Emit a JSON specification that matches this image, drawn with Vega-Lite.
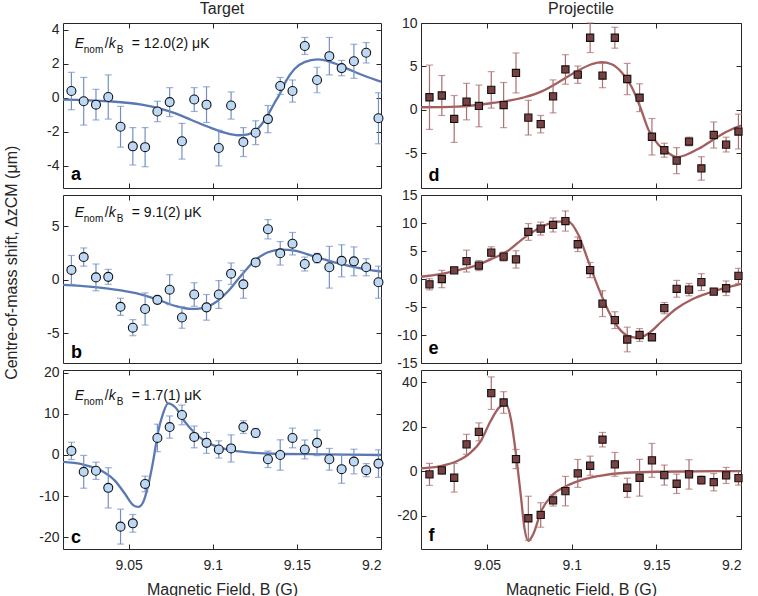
{
  "$schema": "https://vega.github.io/schema/vega-lite/v6.json",
  "padding": {"left": 4, "top": 0, "right": 5, "bottom": 0},
  "background": "white",
  "config": {
    "font": "Liberation Sans",
    "view": {"stroke": "#262626", "strokeWidth": 1},
    "axis": {"domain": false, "grid": false, "tickSize": -5, "tickColor": "#262626", "tickWidth": 1,
             "labelFontSize": 14, "labelColor": "#262626", "labelFont": "Liberation Sans", "labelPadding": 9,
             "titleFont": "Liberation Sans", "titleFontSize": 16, "titleFontWeight": "normal", "titleColor": "#262626"},
    "title": {"fontSize": 16, "fontWeight": "normal", "font": "Liberation Sans", "color": "#262626", "offset": 6},
    "text": {"font": "Liberation Sans", "color": "#111111"}
  },
  "datasets": {
    "pts": [
      {"p":"a","x":9.016,"y":0.4,"e":1.1},{"p":"a","x":9.0233,"y":-0.2,"e":1.4},{"p":"a","x":9.0306,"y":-0.4,"e":0.9},{"p":"a","x":9.0379,"y":0.05,"e":1.3},{"p":"a","x":9.0452,"y":-1.7,"e":1.2},{"p":"a","x":9.0525,"y":-2.85,"e":1.1},{"p":"a","x":9.0598,"y":-2.9,"e":1.15},{"p":"a","x":9.0671,"y":-0.8,"e":0.6},{"p":"a","x":9.0744,"y":-0.25,"e":0.85},{"p":"a","x":9.0817,"y":-2.55,"e":1.05},{"p":"a","x":9.089,"y":-0.1,"e":0.7},{"p":"a","x":9.0963,"y":-0.4,"e":1.05},{"p":"a","x":9.1036,"y":-2.95,"e":1.05},{"p":"a","x":9.1109,"y":-0.45,"e":0.8},{"p":"a","x":9.1182,"y":-2.6,"e":0.85},{"p":"a","x":9.1255,"y":-2.05,"e":0.7},{"p":"a","x":9.1328,"y":-1.25,"e":0.8},{"p":"a","x":9.1401,"y":0.7,"e":0.5},{"p":"a","x":9.1474,"y":0.4,"e":0.65},{"p":"a","x":9.1547,"y":3.05,"e":0.5},{"p":"a","x":9.162,"y":1.05,"e":0.75},{"p":"a","x":9.1693,"y":2.45,"e":1.1},{"p":"a","x":9.1766,"y":1.75,"e":0.45},{"p":"a","x":9.1839,"y":2.15,"e":1.0},{"p":"a","x":9.1912,"y":2.65,"e":0.6},{"p":"a","x":9.1985,"y":-1.2,"e":1.5},
      {"p":"b","x":9.016,"y":0.9,"e":1.35},{"p":"b","x":9.0233,"y":2.1,"e":0.85},{"p":"b","x":9.0306,"y":0.2,"e":1.25},{"p":"b","x":9.0379,"y":0.25,"e":0.7},{"p":"b","x":9.0452,"y":-2.55,"e":0.8},{"p":"b","x":9.0525,"y":-4.5,"e":0.75},{"p":"b","x":9.0598,"y":-2.75,"e":1.5},{"p":"b","x":9.0671,"y":-1.9,"e":0.35},{"p":"b","x":9.0744,"y":-0.95,"e":1.4},{"p":"b","x":9.0817,"y":-3.55,"e":1.0},{"p":"b","x":9.089,"y":-1.4,"e":1.1},{"p":"b","x":9.0963,"y":-2.6,"e":1.2},{"p":"b","x":9.1036,"y":-1.4,"e":1.3},{"p":"b","x":9.1109,"y":0.55,"e":1.0},{"p":"b","x":9.1182,"y":-0.45,"e":1.3},{"p":"b","x":9.1255,"y":1.6,"e":0.3},{"p":"b","x":9.1328,"y":4.7,"e":0.9},{"p":"b","x":9.1401,"y":2.45,"e":1.1},{"p":"b","x":9.1474,"y":3.35,"e":1.05},{"p":"b","x":9.1547,"y":1.45,"e":0.65},{"p":"b","x":9.162,"y":2.0,"e":0.45},{"p":"b","x":9.1693,"y":1.15,"e":1.95},{"p":"b","x":9.1766,"y":1.75,"e":1.5},{"p":"b","x":9.1839,"y":1.7,"e":1.35},{"p":"b","x":9.1912,"y":1.15,"e":0.8},{"p":"b","x":9.1985,"y":-0.25,"e":1.5},
      {"p":"c","x":9.016,"y":1.0,"e":2.1},{"p":"c","x":9.0233,"y":-4.1,"e":4.0},{"p":"c","x":9.0306,"y":-3.85,"e":2.1},{"p":"c","x":9.0379,"y":-8.0,"e":4.9},{"p":"c","x":9.0452,"y":-17.45,"e":4.25},{"p":"c","x":9.0525,"y":-16.65,"e":2.15},{"p":"c","x":9.0598,"y":-7.05,"e":1.9},{"p":"c","x":9.0671,"y":4.15,"e":3.35},{"p":"c","x":9.0744,"y":6.8,"e":2.7},{"p":"c","x":9.0817,"y":9.75,"e":2.4},{"p":"c","x":9.089,"y":4.4,"e":2.65},{"p":"c","x":9.0963,"y":2.95,"e":2.55},{"p":"c","x":9.1036,"y":1.35,"e":2.1},{"p":"c","x":9.1109,"y":1.6,"e":3.3},{"p":"c","x":9.1182,"y":6.8,"e":1.55},{"p":"c","x":9.1255,"y":5.35,"e":1.1},{"p":"c","x":9.1328,"y":-1.05,"e":2.0},{"p":"c","x":9.1401,"y":0.0,"e":3.7},{"p":"c","x":9.1474,"y":4.15,"e":2.4},{"p":"c","x":9.1547,"y":1.35,"e":2.3},{"p":"c","x":9.162,"y":2.95,"e":3.1},{"p":"c","x":9.1693,"y":-1.05,"e":2.65},{"p":"c","x":9.1766,"y":-3.45,"e":3.45},{"p":"c","x":9.1839,"y":-1.6,"e":3.0},{"p":"c","x":9.1912,"y":-3.7,"e":1.6},{"p":"c","x":9.1985,"y":-2.1,"e":3.35},
      {"p":"d","x":9.016,"y":1.45,"e":3.7},{"p":"d","x":9.0233,"y":1.65,"e":2.3},{"p":"d","x":9.0306,"y":-1.05,"e":2.7},{"p":"d","x":9.0379,"y":0.95,"e":2.1},{"p":"d","x":9.0452,"y":0.45,"e":2.4},{"p":"d","x":9.0525,"y":2.3,"e":2.1},{"p":"d","x":9.0598,"y":0.55,"e":2.6},{"p":"d","x":9.0671,"y":4.25,"e":2.3},{"p":"d","x":9.0744,"y":-0.9,"e":2.0},{"p":"d","x":9.0817,"y":-1.65,"e":1.0},{"p":"d","x":9.089,"y":1.55,"e":1.9},{"p":"d","x":9.0963,"y":4.65,"e":1.7},{"p":"d","x":9.1036,"y":4.05,"e":1.0},{"p":"d","x":9.1109,"y":8.3,"e":1.7},{"p":"d","x":9.1182,"y":3.95,"e":1.4},{"p":"d","x":9.1255,"y":8.3,"e":1.2},{"p":"d","x":9.1328,"y":3.55,"e":1.8},{"p":"d","x":9.1401,"y":1.4,"e":1.6},{"p":"d","x":9.1474,"y":-3.1,"e":2.1},{"p":"d","x":9.1547,"y":-4.65,"e":0.8},{"p":"d","x":9.162,"y":-5.85,"e":1.5},{"p":"d","x":9.1693,"y":-3.65,"e":0.5},{"p":"d","x":9.1766,"y":-6.75,"e":1.35},{"p":"d","x":9.1839,"y":-2.9,"e":1.5},{"p":"d","x":9.1912,"y":-4.0,"e":0.85},{"p":"d","x":9.1985,"y":-2.5,"e":2.0},
      {"p":"e","x":9.016,"y":-0.95,"e":1.0},{"p":"e","x":9.0233,"y":0.0,"e":1.55},{"p":"e","x":9.0306,"y":1.55,"e":0.3},{"p":"e","x":9.0379,"y":3.2,"e":1.95},{"p":"e","x":9.0452,"y":2.4,"e":0.9},{"p":"e","x":9.0525,"y":4.7,"e":1.05},{"p":"e","x":9.0598,"y":4.0,"e":0.8},{"p":"e","x":9.0671,"y":3.5,"e":1.55},{"p":"e","x":9.0744,"y":8.4,"e":1.5},{"p":"e","x":9.0817,"y":9.0,"e":1.15},{"p":"e","x":9.089,"y":9.65,"e":1.25},{"p":"e","x":9.0963,"y":10.35,"e":1.8},{"p":"e","x":9.1036,"y":6.2,"e":1.3},{"p":"e","x":9.1109,"y":1.6,"e":1.35},{"p":"e","x":9.1182,"y":-4.4,"e":2.3},{"p":"e","x":9.1255,"y":-7.35,"e":1.5},{"p":"e","x":9.1328,"y":-10.8,"e":2.2},{"p":"e","x":9.1401,"y":-10.0,"e":1.15},{"p":"e","x":9.1474,"y":-10.4,"e":0.3},{"p":"e","x":9.1547,"y":-5.2,"e":1.0},{"p":"e","x":9.162,"y":-1.75,"e":1.5},{"p":"e","x":9.1693,"y":-1.9,"e":1.1},{"p":"e","x":9.1766,"y":-0.55,"e":1.5},{"p":"e","x":9.1839,"y":-2.25,"e":0.3},{"p":"e","x":9.1912,"y":-1.65,"e":1.3},{"p":"e","x":9.1985,"y":0.55,"e":1.35},
      {"p":"f","x":9.016,"y":-1.5,"e":4.95},{"p":"f","x":9.0233,"y":0.3,"e":1.7},{"p":"f","x":9.0306,"y":-3.0,"e":6.45},{"p":"f","x":9.0379,"y":12.0,"e":4.5},{"p":"f","x":9.0452,"y":17.6,"e":4.05},{"p":"f","x":9.0525,"y":35.0,"e":7.3},{"p":"f","x":9.0598,"y":30.8,"e":4.85},{"p":"f","x":9.0671,"y":5.4,"e":4.3},{"p":"f","x":9.0744,"y":-21.2,"e":9.9},{"p":"f","x":9.0817,"y":-19.7,"e":5.5},{"p":"f","x":9.089,"y":-13.2,"e":2.5},{"p":"f","x":9.0963,"y":-9.0,"e":6.6},{"p":"f","x":9.1036,"y":-1.05,"e":6.25},{"p":"f","x":9.1109,"y":2.4,"e":4.3},{"p":"f","x":9.1182,"y":14.1,"e":3.25},{"p":"f","x":9.1255,"y":3.0,"e":5.35},{"p":"f","x":9.1328,"y":-7.5,"e":4.3},{"p":"f","x":9.1401,"y":-3.0,"e":8.25},{"p":"f","x":9.1474,"y":4.8,"e":7.6},{"p":"f","x":9.1547,"y":-1.8,"e":4.5},{"p":"f","x":9.162,"y":-5.7,"e":4.35},{"p":"f","x":9.1693,"y":-1.5,"e":6.6},{"p":"f","x":9.1766,"y":-4.05,"e":1.9},{"p":"f","x":9.1839,"y":-5.0,"e":3.9},{"p":"f","x":9.1912,"y":-1.95,"e":3.6},{"p":"f","x":9.1985,"y":-3.15,"e":3.15}
    ],
    "fit": [
      {"p":"a","x":9.011,"y":-0.1},{"p":"a","x":9.0379,"y":-0.2},{"p":"a","x":9.0577,"y":-0.4},{"p":"a","x":9.0676,"y":-0.6},{"p":"a","x":9.0774,"y":-0.9},{"p":"a","x":9.0873,"y":-1.3},{"p":"a","x":9.0972,"y":-1.7},{"p":"a","x":9.1071,"y":-2.05},{"p":"a","x":9.115,"y":-2.2},{"p":"a","x":9.1209,"y":-2.15},{"p":"a","x":9.1269,"y":-1.8},{"p":"a","x":9.1328,"y":-1.0},{"p":"a","x":9.1367,"y":-0.3},{"p":"a","x":9.1397,"y":0.2},{"p":"a","x":9.1436,"y":1.0},{"p":"a","x":9.1486,"y":1.7},{"p":"a","x":9.1545,"y":2.1},{"p":"a","x":9.1624,"y":2.26},{"p":"a","x":9.1703,"y":2.1},{"p":"a","x":9.1802,"y":1.7},{"p":"a","x":9.1901,"y":1.3},{"p":"a","x":9.2,"y":0.95},
      {"p":"b","x":9.011,"y":-0.5},{"p":"b","x":9.0379,"y":-0.85},{"p":"b","x":9.0577,"y":-1.4},{"p":"b","x":9.0676,"y":-1.9},{"p":"b","x":9.0774,"y":-2.45},{"p":"b","x":9.0873,"y":-2.75},{"p":"b","x":9.0932,"y":-2.7},{"p":"b","x":9.1011,"y":-2.2},{"p":"b","x":9.1091,"y":-1.1},{"p":"b","x":9.117,"y":0.4},{"p":"b","x":9.1248,"y":1.75},{"p":"b","x":9.1328,"y":2.55},{"p":"b","x":9.1407,"y":2.8},{"p":"b","x":9.1486,"y":2.7},{"p":"b","x":9.1604,"y":2.15},{"p":"b","x":9.1723,"y":1.6},{"p":"b","x":9.1862,"y":1.1},{"p":"b","x":9.2,"y":0.75},
      {"p":"c","x":9.011,"y":-1.7},{"p":"c","x":9.0221,"y":-2.25},{"p":"c","x":9.0339,"y":-3.85},{"p":"c","x":9.0418,"y":-6.25},{"p":"c","x":9.0478,"y":-9.45},{"p":"c","x":9.0527,"y":-12.2},{"p":"c","x":9.0557,"y":-12.65},{"p":"c","x":9.0587,"y":-11.45},{"p":"c","x":9.0616,"y":-7.45},{"p":"c","x":9.0646,"y":-1.45},{"p":"c","x":9.0676,"y":5.75},{"p":"c","x":9.0705,"y":10.15},{"p":"c","x":9.0735,"y":12.55},{"p":"c","x":9.0774,"y":11.75},{"p":"c","x":9.0833,"y":8.15},{"p":"c","x":9.0893,"y":5.35},{"p":"c","x":9.0972,"y":2.95},{"p":"c","x":9.1071,"y":1.5},{"p":"c","x":9.117,"y":0.8},{"p":"c","x":9.1367,"y":0.3},{"p":"c","x":9.1664,"y":0.15},{"p":"c","x":9.2,"y":0.0},
      {"p":"d","x":9.011,"y":0.3},{"p":"d","x":9.0324,"y":0.38},{"p":"d","x":9.0522,"y":0.76},{"p":"d","x":9.0721,"y":1.45},{"p":"d","x":9.082,"y":2.1},{"p":"d","x":9.0919,"y":3.15},{"p":"d","x":9.1018,"y":4.3},{"p":"d","x":9.1117,"y":5.25},{"p":"d","x":9.1177,"y":5.5},{"p":"d","x":9.1236,"y":5.25},{"p":"d","x":9.1296,"y":4.3},{"p":"d","x":9.1355,"y":2.6},{"p":"d","x":9.1405,"y":0.3},{"p":"d","x":9.1455,"y":-2.35},{"p":"d","x":9.1514,"y":-4.05},{"p":"d","x":9.1574,"y":-5.0},{"p":"d","x":9.1623,"y":-5.45},{"p":"d","x":9.1673,"y":-5.2},{"p":"d","x":9.1752,"y":-4.45},{"p":"d","x":9.1831,"y":-3.5},{"p":"d","x":9.1911,"y":-2.55},{"p":"d","x":9.2,"y":-1.8},
      {"p":"e","x":9.011,"y":0.4},{"p":"e","x":9.0225,"y":0.85},{"p":"e","x":9.0324,"y":1.55},{"p":"e","x":9.0423,"y":2.3},{"p":"e","x":9.0522,"y":3.5},{"p":"e","x":9.0622,"y":5.0},{"p":"e","x":9.0721,"y":7.4},{"p":"e","x":9.082,"y":9.3},{"p":"e","x":9.0919,"y":10.25},{"p":"e","x":9.0979,"y":10.25},{"p":"e","x":9.1038,"y":8.0},{"p":"e","x":9.1098,"y":3.2},{"p":"e","x":9.1157,"y":-1.55},{"p":"e","x":9.1217,"y":-5.7},{"p":"e","x":9.1276,"y":-8.7},{"p":"e","x":9.1336,"y":-10.2},{"p":"e","x":9.1395,"y":-10.5},{"p":"e","x":9.1455,"y":-9.7},{"p":"e","x":9.1534,"y":-7.5},{"p":"e","x":9.1613,"y":-5.4},{"p":"e","x":9.1712,"y":-3.6},{"p":"e","x":9.1812,"y":-2.45},{"p":"e","x":9.1911,"y":-1.55},{"p":"e","x":9.2,"y":-0.85},
      {"p":"f","x":9.011,"y":1.2},{"p":"f","x":9.0225,"y":2.25},{"p":"f","x":9.0324,"y":4.5},{"p":"f","x":9.0403,"y":8.3},{"p":"f","x":9.0463,"y":13.5},{"p":"f","x":9.0522,"y":22.6},{"p":"f","x":9.0572,"y":28.6},{"p":"f","x":9.0612,"y":30.1},{"p":"f","x":9.0641,"y":23.3},{"p":"f","x":9.0671,"y":7.5},{"p":"f","x":9.0701,"y":-12.0},{"p":"f","x":9.0721,"y":-25.6},{"p":"f","x":9.0744,"y":-31.3},{"p":"f","x":9.0771,"y":-28.6},{"p":"f","x":9.082,"y":-18.0},{"p":"f","x":9.0879,"y":-11.3},{"p":"f","x":9.0959,"y":-7.1},{"p":"f","x":9.1038,"y":-4.5},{"p":"f","x":9.1157,"y":-2.25},{"p":"f","x":9.1316,"y":-0.75},{"p":"f","x":9.1514,"y":-0.3},{"p":"f","x":9.2,"y":0.0}
    ],
    "ann": [
      {"p":"a","x":9.018,"y":2.93,"v":"= 12.0(2) μK"},
      {"p":"b","x":9.018,"y":5.8,"v":"= 9.1(2) μK"},
      {"p":"c","x":9.018,"y":13.3,"v":"= 1.7(1) μK"}
    ],
    "lab": [
      {"p":"a","x":9.0158,"y":-4.84,"t":"a"},
      {"p":"b","x":9.0158,"y":-7.34,"t":"b"},
      {"p":"c","x":9.0158,"y":-21.4,"t":"c"},
      {"p":"d","x":9.0155,"y":-8.15,"t":"d"},
      {"p":"e","x":9.0155,"y":-13.4,"t":"e"},
      {"p":"f","x":9.0155,"y":-31.6,"t":"f"}
    ]
  },
  "spacing": 10,
  "hconcat": [
    {
      "title": {"text": "Centre-of-mass shift, ΔzCM (μm)", "orient": "left", "fontSize": 16, "offset": 18, "anchor": "middle", "dx": 36},
      "bounds": "flush",
      "spacing": 7,
      "vconcat": [
        {
          "width": 318, "height": 165,
          "title": {"text": "Target", "frame": "group"},
          "layer": [
            {"data": {"name": "fit"}, "transform": [{"filter": "datum.p==='a'"}],
             "mark": {"type": "line", "color": "#5A79B3", "strokeWidth": 2.3, "interpolate": "monotone", "clip": true},
             "encoding": {
               "x": {"field": "x", "type": "quantitative", "scale": {"domain": [9.011, 9.2], "nice": false, "zero": false}, "axis": {"orient": "top", "values": [9.05, 9.1, 9.15], "labels": false, "title": null}},
               "y": {"field": "y", "type": "quantitative", "scale": {"domain": [-5.3, 4.4], "nice": false, "zero": false}, "axis": {"orient": "right", "values": [-4, -2, 0, 2, 4], "labels": false, "title": null}}}},
            {"data": {"name": "pts"}, "transform": [{"filter": "datum.p==='a'"}],
             "mark": {"type": "errorbar", "color": "#7390C6", "thickness": 1.2, "ticks": {"size": 7, "thickness": 1.2}},
             "encoding": {
               "x": {"field": "x", "type": "quantitative", "axis": null},
               "y": {"field": "y", "type": "quantitative", "axis": null},
               "yError": {"field": "e"}}},
            {"data": {"name": "pts"}, "transform": [{"filter": "datum.p==='a'"}],
             "mark": {"type": "point", "shape": "circle", "filled": true, "fill": "#BCD8F5", "stroke": "#111111", "strokeWidth": 1.1, "size": 80, "opacity": 1},
             "encoding": {
               "x": {"field": "x", "type": "quantitative", "scale": {"domain": [9.011, 9.2], "nice": false, "zero": false}, "axis": {"orient": "bottom", "values": [9.05, 9.1, 9.15], "labels": false, "title": null}},
               "y": {"field": "y", "type": "quantitative", "scale": {"domain": [-5.3, 4.4], "nice": false, "zero": false}, "axis": {"orient": "left", "values": [-4, -2, 0, 2, 4], "title": null, "labelExpr": "'' + datum.value"}}}},
            {"data": {"name": "ann"}, "transform": [{"filter": "datum.p==='a'"}],
             "encoding": {"x": {"field": "x", "type": "quantitative", "axis": null}, "y": {"field": "y", "type": "quantitative", "axis": null}},
             "layer": [
               {"mark": {"type": "text", "text": "E", "fontStyle": "italic", "fontSize": 14, "align": "left", "baseline": "alphabetic"}},
               {"mark": {"type": "text", "text": "nom", "fontSize": 10, "align": "left", "baseline": "alphabetic", "dx": 9, "dy": 5}},
               {"mark": {"type": "text", "text": "/", "fontSize": 14, "align": "left", "baseline": "alphabetic", "dx": 30}},
               {"mark": {"type": "text", "text": "k", "fontStyle": "italic", "fontSize": 14, "align": "left", "baseline": "alphabetic", "dx": 34}},
               {"mark": {"type": "text", "text": "B", "fontSize": 10, "align": "left", "baseline": "alphabetic", "dx": 42, "dy": 5}},
               {"mark": {"type": "text", "fontSize": 14, "align": "left", "baseline": "alphabetic", "dx": 57}, "encoding": {"text": {"field": "v"}}}
             ]},
            {"data": {"name": "lab"}, "transform": [{"filter": "datum.p==='a'"}],
             "mark": {"type": "text", "fontWeight": "bold", "fontSize": 18, "align": "left", "baseline": "alphabetic", "color": "#000000"},
             "encoding": {"x": {"field": "x", "type": "quantitative", "axis": null}, "y": {"field": "y", "type": "quantitative", "axis": null}, "text": {"field": "t"}}}
          ],
          "resolve": {"axis": {"x": "independent", "y": "independent"}}
        },
        {
          "width": 318, "height": 168,
          "layer": [
            {"data": {"name": "fit"}, "transform": [{"filter": "datum.p==='b'"}],
             "mark": {"type": "line", "color": "#5A79B3", "strokeWidth": 2.3, "interpolate": "monotone", "clip": true},
             "encoding": {
               "x": {"field": "x", "type": "quantitative", "scale": {"domain": [9.011, 9.2], "nice": false, "zero": false}, "axis": {"orient": "top", "values": [9.05, 9.1, 9.15], "labels": false, "title": null}},
               "y": {"field": "y", "type": "quantitative", "scale": {"domain": [-7.8, 7.9], "nice": false, "zero": false}, "axis": {"orient": "right", "values": [-5, 0, 5], "labels": false, "title": null}}}},
            {"data": {"name": "pts"}, "transform": [{"filter": "datum.p==='b'"}],
             "mark": {"type": "errorbar", "color": "#7390C6", "thickness": 1.2, "ticks": {"size": 7, "thickness": 1.2}},
             "encoding": {
               "x": {"field": "x", "type": "quantitative", "axis": null},
               "y": {"field": "y", "type": "quantitative", "axis": null},
               "yError": {"field": "e"}}},
            {"data": {"name": "pts"}, "transform": [{"filter": "datum.p==='b'"}],
             "mark": {"type": "point", "shape": "circle", "filled": true, "fill": "#BCD8F5", "stroke": "#111111", "strokeWidth": 1.1, "size": 80, "opacity": 1},
             "encoding": {
               "x": {"field": "x", "type": "quantitative", "scale": {"domain": [9.011, 9.2], "nice": false, "zero": false}, "axis": {"orient": "bottom", "values": [9.05, 9.1, 9.15], "labels": false, "title": null}},
               "y": {"field": "y", "type": "quantitative", "scale": {"domain": [-7.8, 7.9], "nice": false, "zero": false}, "axis": {"orient": "left", "values": [-5, 0, 5], "title": null, "labelExpr": "'' + datum.value"}}}},
            {"data": {"name": "ann"}, "transform": [{"filter": "datum.p==='b'"}],
             "encoding": {"x": {"field": "x", "type": "quantitative", "axis": null}, "y": {"field": "y", "type": "quantitative", "axis": null}},
             "layer": [
               {"mark": {"type": "text", "text": "E", "fontStyle": "italic", "fontSize": 14, "align": "left", "baseline": "alphabetic"}},
               {"mark": {"type": "text", "text": "nom", "fontSize": 10, "align": "left", "baseline": "alphabetic", "dx": 9, "dy": 5}},
               {"mark": {"type": "text", "text": "/", "fontSize": 14, "align": "left", "baseline": "alphabetic", "dx": 30}},
               {"mark": {"type": "text", "text": "k", "fontStyle": "italic", "fontSize": 14, "align": "left", "baseline": "alphabetic", "dx": 34}},
               {"mark": {"type": "text", "text": "B", "fontSize": 10, "align": "left", "baseline": "alphabetic", "dx": 42, "dy": 5}},
               {"mark": {"type": "text", "fontSize": 14, "align": "left", "baseline": "alphabetic", "dx": 57}, "encoding": {"text": {"field": "v"}}}
             ]},
            {"data": {"name": "lab"}, "transform": [{"filter": "datum.p==='b'"}],
             "mark": {"type": "text", "fontWeight": "bold", "fontSize": 18, "align": "left", "baseline": "alphabetic", "color": "#000000"},
             "encoding": {"x": {"field": "x", "type": "quantitative", "axis": null}, "y": {"field": "y", "type": "quantitative", "axis": null}, "text": {"field": "t"}}}
          ],
          "resolve": {"axis": {"x": "independent", "y": "independent"}}
        },
        {
          "width": 318, "height": 179,
          "layer": [
            {"data": {"name": "fit"}, "transform": [{"filter": "datum.p==='c'"}],
             "mark": {"type": "line", "color": "#5A79B3", "strokeWidth": 2.3, "interpolate": "monotone", "clip": true},
             "encoding": {
               "x": {"field": "x", "type": "quantitative", "scale": {"domain": [9.011, 9.2], "nice": false, "zero": false}, "axis": {"orient": "top", "values": [9.05, 9.1, 9.15], "labels": false, "title": null}},
               "y": {"field": "y", "type": "quantitative", "scale": {"domain": [-22.9, 20.7], "nice": false, "zero": false}, "axis": {"orient": "right", "values": [-20, -10, 0, 10, 20], "labels": false, "title": null}}}},
            {"data": {"name": "pts"}, "transform": [{"filter": "datum.p==='c'"}],
             "mark": {"type": "errorbar", "color": "#7390C6", "thickness": 1.2, "ticks": {"size": 7, "thickness": 1.2}},
             "encoding": {
               "x": {"field": "x", "type": "quantitative", "axis": null},
               "y": {"field": "y", "type": "quantitative", "axis": null},
               "yError": {"field": "e"}}},
            {"data": {"name": "pts"}, "transform": [{"filter": "datum.p==='c'"}],
             "mark": {"type": "point", "shape": "circle", "filled": true, "fill": "#BCD8F5", "stroke": "#111111", "strokeWidth": 1.1, "size": 80, "opacity": 1},
             "encoding": {
               "x": {"field": "x", "type": "quantitative", "scale": {"domain": [9.011, 9.2], "nice": false, "zero": false}, "axis": {"orient": "bottom", "values": [9.05, 9.1, 9.15, 9.2], "title": "Magnetic Field, B (G)", "labelExpr": "'' + datum.value", "labelPadding": 14, "titlePadding": 9}},
               "y": {"field": "y", "type": "quantitative", "scale": {"domain": [-22.9, 20.7], "nice": false, "zero": false}, "axis": {"orient": "left", "values": [-20, -10, 0, 10, 20], "title": null, "labelExpr": "'' + datum.value"}}}},
            {"data": {"name": "ann"}, "transform": [{"filter": "datum.p==='c'"}],
             "encoding": {"x": {"field": "x", "type": "quantitative", "axis": null}, "y": {"field": "y", "type": "quantitative", "axis": null}},
             "layer": [
               {"mark": {"type": "text", "text": "E", "fontStyle": "italic", "fontSize": 14, "align": "left", "baseline": "alphabetic"}},
               {"mark": {"type": "text", "text": "nom", "fontSize": 10, "align": "left", "baseline": "alphabetic", "dx": 9, "dy": 5}},
               {"mark": {"type": "text", "text": "/", "fontSize": 14, "align": "left", "baseline": "alphabetic", "dx": 30}},
               {"mark": {"type": "text", "text": "k", "fontStyle": "italic", "fontSize": 14, "align": "left", "baseline": "alphabetic", "dx": 34}},
               {"mark": {"type": "text", "text": "B", "fontSize": 10, "align": "left", "baseline": "alphabetic", "dx": 42, "dy": 5}},
               {"mark": {"type": "text", "fontSize": 14, "align": "left", "baseline": "alphabetic", "dx": 57}, "encoding": {"text": {"field": "v"}}}
             ]},
            {"data": {"name": "lab"}, "transform": [{"filter": "datum.p==='c'"}],
             "mark": {"type": "text", "fontWeight": "bold", "fontSize": 18, "align": "left", "baseline": "alphabetic", "color": "#000000"},
             "encoding": {"x": {"field": "x", "type": "quantitative", "axis": null}, "y": {"field": "y", "type": "quantitative", "axis": null}, "text": {"field": "t"}}}
          ],
          "resolve": {"axis": {"x": "independent", "y": "independent"}}
        }
      ]
    },
    {
      "bounds": "flush",
      "spacing": 7,
      "vconcat": [
        {
          "width": 320, "height": 165,
          "title": {"text": "Projectile", "frame": "group", "offset": -1},
          "layer": [
            {"data": {"name": "fit"}, "transform": [{"filter": "datum.p==='d'"}],
             "mark": {"type": "line", "color": "#A35E5F", "strokeWidth": 2.3, "interpolate": "monotone", "clip": true},
             "encoding": {
               "x": {"field": "x", "type": "quantitative", "scale": {"domain": [9.011, 9.2], "nice": false, "zero": false}, "axis": {"orient": "top", "values": [9.05, 9.1, 9.15], "labels": false, "title": null}},
               "y": {"field": "y", "type": "quantitative", "scale": {"domain": [-9, 10], "nice": false, "zero": false}, "axis": {"orient": "right", "values": [-5, 0, 5, 10], "labels": false, "title": null}}}},
            {"data": {"name": "pts"}, "transform": [{"filter": "datum.p==='d'"}],
             "mark": {"type": "errorbar", "color": "#AA6F6F", "thickness": 1.2, "ticks": {"size": 7, "thickness": 1.2}},
             "encoding": {
               "x": {"field": "x", "type": "quantitative", "axis": null},
               "y": {"field": "y", "type": "quantitative", "axis": null},
               "yError": {"field": "e"}}},
            {"data": {"name": "pts"}, "transform": [{"filter": "datum.p==='d'"}],
             "mark": {"type": "point", "shape": "square", "filled": true, "fill": "#7A4142", "stroke": "#111111", "strokeWidth": 1.1, "size": 52, "opacity": 1},
             "encoding": {
               "x": {"field": "x", "type": "quantitative", "scale": {"domain": [9.011, 9.2], "nice": false, "zero": false}, "axis": {"orient": "bottom", "values": [9.05, 9.1, 9.15], "labels": false, "title": null}},
               "y": {"field": "y", "type": "quantitative", "scale": {"domain": [-9, 10], "nice": false, "zero": false}, "axis": {"orient": "left", "values": [-5, 0, 5, 10], "title": null, "labelExpr": "'' + datum.value"}}}},
            {"data": {"name": "lab"}, "transform": [{"filter": "datum.p==='d'"}],
             "mark": {"type": "text", "fontWeight": "bold", "fontSize": 18, "align": "left", "baseline": "alphabetic", "color": "#000000"},
             "encoding": {"x": {"field": "x", "type": "quantitative", "axis": null}, "y": {"field": "y", "type": "quantitative", "axis": null}, "text": {"field": "t"}}}
          ],
          "resolve": {"axis": {"x": "independent", "y": "independent"}}
        },
        {
          "width": 320, "height": 168,
          "layer": [
            {"data": {"name": "fit"}, "transform": [{"filter": "datum.p==='e'"}],
             "mark": {"type": "line", "color": "#A35E5F", "strokeWidth": 2.3, "interpolate": "monotone", "clip": true},
             "encoding": {
               "x": {"field": "x", "type": "quantitative", "scale": {"domain": [9.011, 9.2], "nice": false, "zero": false}, "axis": {"orient": "top", "values": [9.05, 9.1, 9.15], "labels": false, "title": null}},
               "y": {"field": "y", "type": "quantitative", "scale": {"domain": [-15, 15], "nice": false, "zero": false}, "axis": {"orient": "right", "values": [-15, -10, -5, 0, 5, 10, 15], "labels": false, "title": null}}}},
            {"data": {"name": "pts"}, "transform": [{"filter": "datum.p==='e'"}],
             "mark": {"type": "errorbar", "color": "#AA6F6F", "thickness": 1.2, "ticks": {"size": 7, "thickness": 1.2}},
             "encoding": {
               "x": {"field": "x", "type": "quantitative", "axis": null},
               "y": {"field": "y", "type": "quantitative", "axis": null},
               "yError": {"field": "e"}}},
            {"data": {"name": "pts"}, "transform": [{"filter": "datum.p==='e'"}],
             "mark": {"type": "point", "shape": "square", "filled": true, "fill": "#7A4142", "stroke": "#111111", "strokeWidth": 1.1, "size": 52, "opacity": 1},
             "encoding": {
               "x": {"field": "x", "type": "quantitative", "scale": {"domain": [9.011, 9.2], "nice": false, "zero": false}, "axis": {"orient": "bottom", "values": [9.05, 9.1, 9.15], "labels": false, "title": null}},
               "y": {"field": "y", "type": "quantitative", "scale": {"domain": [-15, 15], "nice": false, "zero": false}, "axis": {"orient": "left", "values": [-15, -10, -5, 0, 5, 10, 15], "title": null, "labelExpr": "'' + datum.value"}}}},
            {"data": {"name": "lab"}, "transform": [{"filter": "datum.p==='e'"}],
             "mark": {"type": "text", "fontWeight": "bold", "fontSize": 18, "align": "left", "baseline": "alphabetic", "color": "#000000"},
             "encoding": {"x": {"field": "x", "type": "quantitative", "axis": null}, "y": {"field": "y", "type": "quantitative", "axis": null}, "text": {"field": "t"}}}
          ],
          "resolve": {"axis": {"x": "independent", "y": "independent"}}
        },
        {
          "width": 320, "height": 179,
          "layer": [
            {"data": {"name": "fit"}, "transform": [{"filter": "datum.p==='f'"}],
             "mark": {"type": "line", "color": "#A35E5F", "strokeWidth": 2.3, "interpolate": "monotone", "clip": true},
             "encoding": {
               "x": {"field": "x", "type": "quantitative", "scale": {"domain": [9.011, 9.2], "nice": false, "zero": false}, "axis": {"orient": "top", "values": [9.05, 9.1, 9.15], "labels": false, "title": null}},
               "y": {"field": "y", "type": "quantitative", "scale": {"domain": [-35, 45.4], "nice": false, "zero": false}, "axis": {"orient": "right", "values": [-20, 0, 20, 40], "labels": false, "title": null}}}},
            {"data": {"name": "pts"}, "transform": [{"filter": "datum.p==='f'"}],
             "mark": {"type": "errorbar", "color": "#AA6F6F", "thickness": 1.2, "ticks": {"size": 7, "thickness": 1.2}},
             "encoding": {
               "x": {"field": "x", "type": "quantitative", "axis": null},
               "y": {"field": "y", "type": "quantitative", "axis": null},
               "yError": {"field": "e"}}},
            {"data": {"name": "pts"}, "transform": [{"filter": "datum.p==='f'"}],
             "mark": {"type": "point", "shape": "square", "filled": true, "fill": "#7A4142", "stroke": "#111111", "strokeWidth": 1.1, "size": 52, "opacity": 1},
             "encoding": {
               "x": {"field": "x", "type": "quantitative", "scale": {"domain": [9.011, 9.2], "nice": false, "zero": false}, "axis": {"orient": "bottom", "values": [9.05, 9.1, 9.15, 9.2], "title": "Magnetic Field, B (G)", "labelExpr": "'' + datum.value", "labelPadding": 14, "titlePadding": 9}},
               "y": {"field": "y", "type": "quantitative", "scale": {"domain": [-35, 45.4], "nice": false, "zero": false}, "axis": {"orient": "left", "values": [-20, 0, 20, 40], "title": null, "labelExpr": "'' + datum.value"}}}},
            {"data": {"name": "lab"}, "transform": [{"filter": "datum.p==='f'"}],
             "mark": {"type": "text", "fontWeight": "bold", "fontSize": 18, "align": "left", "baseline": "alphabetic", "color": "#000000"},
             "encoding": {"x": {"field": "x", "type": "quantitative", "axis": null}, "y": {"field": "y", "type": "quantitative", "axis": null}, "text": {"field": "t"}}}
          ],
          "resolve": {"axis": {"x": "independent", "y": "independent"}}
        }
      ]
    }
  ]
}
